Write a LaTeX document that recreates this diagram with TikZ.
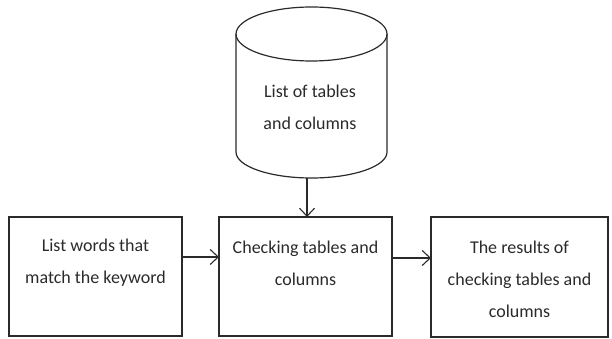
\documentclass[tikz,border=0pt]{standalone}
\usepackage{fontspec}
\setmainfont{Carlito}
\usetikzlibrary{arrows.meta}
\definecolor{ink}{HTML}{2A2A2A}
\tikzset{
  box/.style={draw=ink, line width=1.2pt},
  label/.style={text=ink, font=\fontsize{18}{32}\selectfont, align=center, inner sep=0pt},
  flow/.style={draw=ink, line width=1.2pt, -{Straight Barb[length=8pt,width=15pt,line width=1.1pt]}},
}
\begin{document}
\begin{tikzpicture}[x=1pt,y=-1pt]
  \useasboundingbox (0,0) rectangle (612,339);
  % database cylinder
  \draw[box] (236,34) -- (236,152) arc[start angle=180, end angle=0, x radius=75.5, y radius=26]
             -- (387,34);
  \draw[box] (311.5,34) ellipse[x radius=75.5, y radius=27];
  \coordinate (dbbot) at (307,177.8);
  \node[label] (db) at (310,107) {List of tables\\and columns};
  % process boxes
  \draw[box] (9,217) rectangle (182,336);
  \node[label] (words) at (95.5,263) {List words that\\match the keyword};
  \draw[box] (219,217) rectangle (392,336);
  \node[label] (check) at (305.5,263) {Checking tables and\\columns};
  \draw[box] (431,217) rectangle (608,337);
  \node[label] (result) at (519.5,279) {The results of\\checking tables and\\columns};
  \coordinate (b1r) at (182,257);
  \coordinate (b2l) at (219,257);
  \coordinate (b2r) at (392,258);
  \coordinate (b3l) at (431,258);
  \coordinate (b2t) at (307,217);
  % connectors
  \draw[flow] (dbbot) -- (b2t);
  \draw[flow] (b1r) -- (b2l);
  \draw[flow] (b2r) -- (b3l);
\end{tikzpicture}
\end{document}
